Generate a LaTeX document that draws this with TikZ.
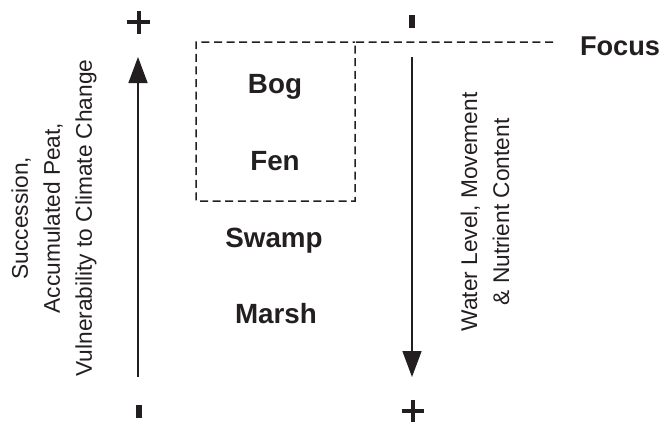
\documentclass[tikz,border=0pt]{standalone}
\usepackage{fontspec}
\setmainfont{Liberation Sans}
\usetikzlibrary{arrows.meta}
\definecolor{ink}{HTML}{231F20}
\begin{document}
\begin{tikzpicture}[x=1bp,y=-1bp,
  every node/.style={text=ink, inner sep=0pt, outer sep=0pt},
  axis/.style={draw=ink, line width=1.5bp, -{Triangle[length=26bp,width=19bp]}},
  wetland/.style={font=\fontsize{27.8bp}{32bp}\selectfont\bfseries, anchor=base},
  sidetext/.style={font=\fontsize{22.7bp}{32bp}\selectfont, align=center, rotate=90},
  focusline/.style={draw=ink, line width=1.5bp, dash pattern=on 8bp off 4.6bp},
  plussign/.style={draw=ink, line width=4bp},
  minussign/.style={fill=ink, draw=none, minimum width=6bp, minimum height=13bp}
]
\useasboundingbox (0,0) rectangle (663,421);

% left scale: succession / accumulated peat
\node[minussign] (lminus) at (139,411) {};
\node (lplus) at (138.5,22) {};
\draw[plussign] ([xshift=-11.5bp]lplus.center) -- ([xshift=11.5bp]lplus.center)
                ([yshift=-11.5bp]lplus.center) -- ([yshift=11.5bp]lplus.center);
\coordinate (llow) at (138,377);
\coordinate (lhigh) at (138,57);
\draw[axis] (llow) -- (lhigh);
\node[sidetext] (ltext) at (54,218)
  {Succession,\\Accumulated Peat,\\Vulnerability to Climate Change};

% right scale: water level / nutrients
\node[minussign] (rminus) at (412,21.5) {};
\node (rplus) at (412.5,411) {};
\draw[plussign] ([xshift=-11bp]rplus.center) -- ([xshift=11bp]rplus.center)
                ([yshift=-11bp]rplus.center) -- ([yshift=11bp]rplus.center);
\coordinate (rhigh) at (412,57);
\coordinate (rlow) at (412,377);
\draw[axis] (rhigh) -- (rlow);
\node[sidetext] (rtext) at (485,212)
  {Water Level, Movement\\\& Nutrient Content};

% wetland types
\node[wetland] (bog)   at (275,93)  {Bog};
\node[wetland] (fen)   at (275,170) {Fen};
\node[wetland] (swamp) at (274,247) {Swamp};
\node[wetland] (marsh) at (276,323) {Marsh};

% focus box and its leader line, drawn as one dashed path
\node[minimum width=159bp, minimum height=159bp] (focusbox) at (275.5,121.5) {};
\coordinate (focusend) at (553,42);
\draw[focusline] (focusend) -- (focusbox.north east) -- (focusbox.south east)
  -- (focusbox.south west) -- (focusbox.north west) -- (focusbox.north east);
\node[font=\fontsize{27.2bp}{32bp}\selectfont\bfseries, anchor=base west] (focus) at (580,55) {Focus};
\end{tikzpicture}
\end{document}
